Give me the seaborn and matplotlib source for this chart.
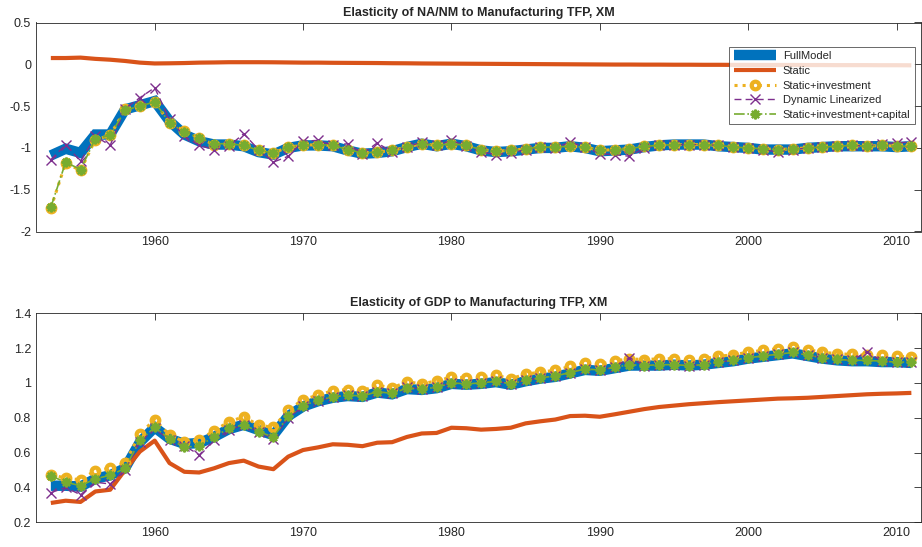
import numpy as np
import pandas as pd
import matplotlib
matplotlib.use("Agg")
import matplotlib.pyplot as plt
import seaborn as sns

years = list(range(1953, 2012))

# Elasticity of NA/NM to Manufacturing TFP
na_full = [-1.09, -1.01, -1.06, -0.84, -0.84, -0.54, -0.49, -0.44, -0.68, -0.84,
           -0.92, -0.96, -0.96, -0.98, -1.05, -1.08, -1.00, -0.97, -0.97, -0.98,
           -1.03, -1.07, -1.06, -1.04, -0.99, -0.95, -0.98, -0.95, -0.98, -1.03,
           -1.05, -1.04, -1.02, -1.00, -1.00, -0.98, -1.00, -1.04, -1.03, -1.02,
           -0.99, -0.97, -0.96, -0.96, -0.96, -0.98, -0.99, -1.00, -1.02, -1.02,
           -1.02, -1.00, -0.99, -0.98, -0.98, -0.98, -0.98, -0.99, -0.98]
na_static = [0.075, 0.075, 0.08, 0.065, 0.055, 0.04, 0.02, 0.01, 0.012, 0.015,
             0.02, 0.022, 0.025, 0.025, 0.025, 0.024, 0.022, 0.02, 0.02, 0.018,
             0.017, 0.016, 0.015, 0.013, 0.012, 0.01, 0.009, 0.008, 0.007, 0.006,
             0.005, 0.004, 0.003, 0.002, 0.001, 0.0, -0.001, -0.002, -0.003, -0.003,
             -0.004, -0.004, -0.005, -0.005, -0.006, -0.006, -0.007, -0.007, -0.008, -0.008,
             -0.008, -0.009, -0.009, -0.01, -0.01, -0.01, -0.011, -0.011, -0.012]
na_inv = [-1.72, -1.18, -1.27, -0.90, -0.85, -0.54, -0.50, -0.45, -0.70, -0.80,
          -0.88, -0.96, -0.95, -0.96, -1.03, -1.06, -0.99, -0.97, -0.96, -0.97,
          -1.02, -1.06, -1.05, -1.03, -0.99, -0.95, -0.97, -0.95, -0.97, -1.02,
          -1.04, -1.03, -1.01, -0.99, -0.99, -0.98, -0.99, -1.03, -1.02, -1.01,
          -0.98, -0.97, -0.96, -0.96, -0.96, -0.97, -0.99, -1.00, -1.01, -1.02,
          -1.01, -1.00, -0.99, -0.98, -0.97, -0.98, -0.97, -0.98, -0.98]
na_dyn = [-1.14, -0.96, -1.16, -0.86, -0.97, -0.53, -0.40, -0.28, -0.66, -0.86,
          -0.97, -1.02, -0.98, -0.83, -1.02, -1.17, -1.10, -0.92, -0.91, -0.97,
          -0.95, -1.07, -0.94, -1.05, -0.99, -0.93, -0.97, -0.91, -0.98, -1.05,
          -1.08, -1.06, -1.02, -0.99, -1.00, -0.93, -0.99, -1.07, -1.08, -1.10,
          -1.00, -0.97, -0.96, -0.96, -0.96, -0.97, -0.99, -1.00, -1.02, -1.05,
          -1.02, -1.00, -0.99, -0.98, -0.97, -0.98, -0.95, -0.94, -0.93]
na_cap = [-1.71, -1.17, -1.26, -0.89, -0.85, -0.55, -0.50, -0.45, -0.70, -0.81,
          -0.88, -0.95, -0.95, -0.97, -1.03, -1.06, -0.99, -0.97, -0.96, -0.97,
          -1.02, -1.06, -1.05, -1.03, -0.99, -0.95, -0.97, -0.95, -0.97, -1.02,
          -1.04, -1.03, -1.01, -0.99, -0.99, -0.98, -0.99, -1.03, -1.02, -1.01,
          -0.98, -0.97, -0.96, -0.96, -0.96, -0.97, -0.99, -1.00, -1.01, -1.02,
          -1.01, -1.00, -0.99, -0.98, -0.97, -0.98, -0.97, -0.98, -0.98]

# Elasticity of GDP to Manufacturing TFP
gdp_full = [0.41, 0.41, 0.405, 0.45, 0.47, 0.51, 0.66, 0.745, 0.68, 0.65,
            0.655, 0.69, 0.735, 0.76, 0.73, 0.70, 0.81, 0.865, 0.895, 0.915,
            0.925, 0.92, 0.945, 0.935, 0.965, 0.96, 0.97, 0.995, 0.99, 0.995,
            1.005, 0.99, 1.01, 1.025, 1.035, 1.055, 1.075, 1.07, 1.085, 1.10,
            1.10, 1.10, 1.105, 1.10, 1.105, 1.115, 1.125, 1.14, 1.15, 1.16,
            1.17, 1.155, 1.14, 1.13, 1.125, 1.125, 1.12, 1.12, 1.115]
gdp_static = [0.311, 0.324, 0.317, 0.377, 0.387, 0.50, 0.606, 0.669, 0.54, 0.49,
              0.486, 0.51, 0.54, 0.554, 0.52, 0.505, 0.577, 0.615, 0.63, 0.648,
              0.645, 0.637, 0.657, 0.66, 0.69, 0.71, 0.713, 0.743, 0.74, 0.732,
              0.736, 0.743, 0.768, 0.78, 0.79, 0.81, 0.812, 0.806, 0.82, 0.835,
              0.85, 0.862, 0.87, 0.878, 0.884, 0.89, 0.895, 0.90, 0.905, 0.91,
              0.912, 0.915, 0.92, 0.925, 0.93, 0.935, 0.938, 0.94, 0.943]
gdp_inv = [0.473, 0.454, 0.444, 0.497, 0.51, 0.54, 0.707, 0.79, 0.70, 0.663,
           0.672, 0.726, 0.777, 0.806, 0.758, 0.745, 0.844, 0.905, 0.93, 0.955,
           0.962, 0.955, 0.987, 0.972, 1.006, 0.996, 1.011, 1.034, 1.03, 1.034,
           1.044, 1.025, 1.05, 1.063, 1.072, 1.095, 1.114, 1.107, 1.126, 1.139,
           1.134, 1.139, 1.139, 1.13, 1.139, 1.153, 1.162, 1.177, 1.187, 1.197,
           1.206, 1.191, 1.177, 1.168, 1.164, 1.16, 1.158, 1.153, 1.149]
gdp_dyn = [0.37, 0.40, 0.358, 0.43, 0.42, 0.50, 0.66, 0.74, 0.67, 0.64,
           0.587, 0.67, 0.73, 0.76, 0.72, 0.68, 0.80, 0.865, 0.895, 0.92,
           0.93, 0.925, 0.95, 0.94, 0.975, 0.965, 0.975, 1.0, 0.995, 1.0,
           1.01, 0.995, 1.015, 1.03, 1.04, 1.06, 1.08, 1.075, 1.09, 1.145,
           1.10, 1.105, 1.105, 1.10, 1.105, 1.12, 1.13, 1.145, 1.155, 1.165,
           1.175, 1.16, 1.145, 1.135, 1.13, 1.18, 1.125, 1.12, 1.12]
gdp_cap = [0.467, 0.43, 0.41, 0.45, 0.47, 0.51, 0.67, 0.745, 0.68, 0.63,
           0.64, 0.69, 0.74, 0.76, 0.72, 0.69, 0.81, 0.87, 0.90, 0.92,
           0.93, 0.925, 0.95, 0.94, 0.97, 0.965, 0.975, 1.0, 0.995, 1.0,
           1.01, 0.995, 1.015, 1.03, 1.04, 1.06, 1.08, 1.075, 1.09, 1.105,
           1.10, 1.105, 1.105, 1.10, 1.105, 1.12, 1.13, 1.145, 1.155, 1.165,
           1.175, 1.16, 1.145, 1.135, 1.13, 1.13, 1.125, 1.12, 1.12]

labels = ['FullModel', 'Static', 'Static+investment', 'Dynamic Linearized',
          'Static+investment+capital']

c_blue = (0.0, 0.447, 0.741)
c_orange = (0.850, 0.325, 0.098)
c_yellow = (0.929, 0.694, 0.125)
c_purple = (0.494, 0.184, 0.556)
c_green = (0.466, 0.674, 0.188)

sns.set_style("white")
plt.rcParams['font.family'] = ['Liberation Sans', 'DejaVu Sans']
plt.rcParams['axes.unicode_minus'] = False
plt.rcParams['xtick.direction'] = 'in'
plt.rcParams['ytick.direction'] = 'in'

fig = plt.figure(figsize=(9.22, 5.47), dpi=100)
ax1 = fig.add_axes([36 / 922, 1 - 231.5 / 547, 885 / 922, 209 / 547])
ax2 = fig.add_axes([36 / 922, 1 - 522.3 / 547, 885 / 922, 209 / 547])


def draw_panel(ax, full, static, inv, dyn, cap):
    sns.lineplot(x=years, y=full, ax=ax, color=c_blue, linewidth=7.5,
                 label=labels[0], solid_joinstyle='miter', solid_capstyle='butt')
    sns.lineplot(x=years, y=static, ax=ax, color=c_orange, linewidth=3,
                 label=labels[1], solid_capstyle='butt')
    sns.lineplot(x=years, y=inv, ax=ax, color=c_yellow, linewidth=2.2,
                 linestyle=':', marker='o', markersize=5.5, markeredgewidth=3,
                 markerfacecolor='none', markeredgecolor=c_yellow, label=labels[2])
    sns.lineplot(x=years, y=dyn, ax=ax, color=c_purple, linewidth=1,
                 linestyle=(0, (5, 3)), marker='x', markersize=6.5,
                 markeredgewidth=1, markeredgecolor=c_purple, label=labels[3])
    # MATLAB-like asterisk marker
    sns.lineplot(x=years, y=cap, ax=ax, color=c_green, linewidth=1.2,
                 linestyle='-.', marker=(8, 2, 0), markersize=7,
                 markeredgewidth=1.6, markeredgecolor=c_green, label=labels[4])
    ax.set_xlim(1952, 2011.65)
    ax.set_xticks([1960, 1970, 1980, 1990, 2000, 2010])
    ax.tick_params(axis='both', which='major', labelsize=9, length=5,
                   width=0.6, colors='#262626', top=True, right=True)
    for sp in ax.spines.values():
        sp.set_color('#262626')
        sp.set_linewidth(0.6)
    ax.set_xlabel('')
    ax.set_ylabel('')


draw_panel(ax1, na_full, na_static, na_inv, na_dyn, na_cap)
ax1.set_ylim(-2, 0.5)
ax1.set_yticks([-2, -1.5, -1, -0.5, 0, 0.5])
ax1.set_yticklabels(['%g' % v for v in [-2, -1.5, -1, -0.5, 0, 0.5]])
ax1.set_title('Elasticity of NA/NM to Manufacturing TFP, XM', fontsize=9,
              fontweight='bold', pad=5)
leg = ax1.legend(loc='upper right', bbox_to_anchor=(0.993, 0.884), fontsize=8,
                 frameon=True, fancybox=False, handlelength=3.8,
                 borderpad=0.4, labelspacing=0.42, handletextpad=0.6,
                 borderaxespad=0)
leg.get_frame().set_edgecolor('#262626')
leg.get_frame().set_linewidth(0.6)

draw_panel(ax2, gdp_full, gdp_static, gdp_inv, gdp_dyn, gdp_cap)
ax2.legend_.remove()
ax2.set_ylim(0.2, 1.4)
ax2.set_yticks([0.2, 0.4, 0.6, 0.8, 1.0, 1.2, 1.4])
ax2.set_yticklabels(['%g' % v for v in [0.2, 0.4, 0.6, 0.8, 1.0, 1.2, 1.4]])
ax2.set_title('Elasticity of GDP to Manufacturing TFP, XM', fontsize=9,
              fontweight='bold', pad=5)

fig.savefig('out.png', dpi=100)
